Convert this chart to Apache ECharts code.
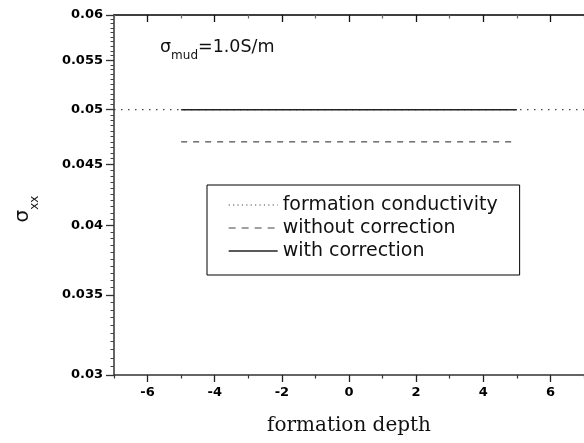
<!DOCTYPE html>
<html>
<head>
<meta charset="utf-8">
<script src="https://cdn.jsdelivr.net/npm/echarts@6/dist/echarts.min.js"></script>
<style>html,body{margin:0;padding:0;background:#fff;}#c{width:584px;height:443px;}</style>
</head>
<body>
<div id="c"></div>
<script>
// ---- data ----
const seriesNames = ['formation conductivity', 'without correction', 'with correction'];
const formationConductivity = [[-7, 0.05], [7, 0.05]];
const withoutCorrection = [[-5, 0.047], [5, 0.047]];
const withCorrection = [[-5, 0.05], [5, 0.05]];
const xMajorTicks = [-6, -4, -2, 0, 2, 4, 6];
const xMinorTicks = [-7, -5, -3, -1, 1, 3, 5, 7];
const yMajorTicks = [0.03, 0.035, 0.04, 0.045, 0.05, 0.055, 0.06];
const yMinorTicks = [0.0305,0.031,0.0315,0.032,0.0325,0.033,0.0335,0.034,0.0345,
  0.0355,0.036,0.0365,0.037,0.0375,0.038,0.0385,0.039,0.0395,
  0.0405,0.041,0.0415,0.042,0.0425,0.043,0.0435,0.044,0.0445,
  0.0455,0.046,0.0465,0.047,0.0475,0.048,0.0485,0.049,0.0495,
  0.0505,0.051,0.0515,0.052,0.0525,0.053,0.0535,0.054,0.0545,
  0.0555,0.056,0.0565,0.057,0.0575,0.058,0.0585,0.059,0.0595];
const xRange = [-7, 7];
const yRange = [0.03, 0.06];
const xTitle = 'formation depth';

const chart = echarts.init(document.getElementById('c'), null, {renderer: 'canvas'});
const tickFont = {fontFamily: 'DejaVu Sans', fontWeight: 'bold', fontSize: 13, color: '#000'};
const baseX = {type: 'value', min: xRange[0], max: xRange[1], splitLine: {show: false}};
const baseY = {type: 'log', logBase: 10, min: yRange[0], max: yRange[1], splitLine: {show: false}};

chart.setOption({
  animation: false,
  grid: {left: 114, top: 15, bottom: 68, right: -9.5},
  legend: {
    orient: 'vertical', left: 207, top: 185,
    data: [
      {name: seriesNames[0], lineStyle: {type: [1.2, 3.2], width: 1.2, color: '#444'}},
      {name: seriesNames[1], lineStyle: {type: [7, 6], width: 1.2, color: '#444'}},
      {name: seriesNames[2], lineStyle: {type: 'solid', width: 1.3, color: '#222'}}
    ],
    itemWidth: 49, itemHeight: 14, itemGap: 3,
    itemStyle: {opacity: 0, borderWidth: 0},
    padding: [10, 22, 14, 21],
    borderColor: '#000', borderWidth: 1,
    textStyle: {fontFamily: 'DejaVu Sans', fontSize: 19, color: '#111', lineHeight: 20},
    selectedMode: false
  },
  xAxis: [
    Object.assign({}, baseX, {
      position: 'bottom',
      axisLine: {onZero: false, lineStyle: {color: '#333', width: 1.5}},
      axisTick: {customValues: xMajorTicks, length: 7, lineStyle: {color: '#222', width: 1.3}},
      axisLabel: Object.assign({customValues: xMajorTicks, margin: 11}, tickFont),
      name: xTitle, nameLocation: 'middle', nameGap: 41,
      nameTextStyle: {fontFamily: 'DejaVu Serif', fontSize: 20, color: '#111'}
    }),
    Object.assign({}, baseX, {
      position: 'bottom',
      axisLine: {show: false, onZero: false},
      axisTick: {customValues: xMinorTicks, length: 3.5, lineStyle: {color: '#333', width: 1.2}},
      axisLabel: {show: false}
    }),
    Object.assign({}, baseX, {
      position: 'top',
      axisLine: {onZero: false, lineStyle: {color: '#000', width: 1.5}},
      axisTick: {inside: true, customValues: xMajorTicks, length: 7, lineStyle: {color: '#111', width: 1.3}},
      axisLabel: {show: false}
    }),
    Object.assign({}, baseX, {
      position: 'top',
      axisLine: {show: false, onZero: false},
      axisTick: {inside: true, customValues: xMinorTicks, length: 3.5, lineStyle: {color: '#666', width: 1.2}},
      axisLabel: {show: false}
    })
  ],
  yAxis: [
    Object.assign({}, baseY, {
      position: 'left',
      axisLine: {show: true, onZero: false, lineStyle: {color: '#333', width: 1.5}},
      axisTick: {show: true, customValues: yMajorTicks, length: 8, lineStyle: {color: '#333', width: 1.3}},
      axisLabel: Object.assign({
        customValues: yMajorTicks, margin: 11,
        formatter: v => String(parseFloat(Number(v).toFixed(4)))
      }, tickFont)
    }),
    Object.assign({}, baseY, {
      position: 'left',
      axisLine: {show: false, onZero: false},
      axisTick: {show: true, customValues: yMinorTicks, length: 3.5, lineStyle: {color: '#444', width: 1}},
      axisLabel: {show: false}
    })
  ],
  series: [
    {name: seriesNames[0], type: 'line', data: formationConductivity, symbol: 'none', z: 2,
      lineStyle: {color: '#444', width: 1.3, type: [1.5, 5.5]}, itemStyle: {color: '#444'}},
    {name: seriesNames[1], type: 'line', data: withoutCorrection, symbol: 'none', z: 3,
      lineStyle: {color: '#555', width: 1.3, type: [6, 6]}, itemStyle: {color: '#555'}},
    {name: seriesNames[2], type: 'line', data: withCorrection, symbol: 'none', z: 4,
      lineStyle: {color: '#222', width: 1.5, type: 'solid'}, itemStyle: {color: '#222'}}
  ],
  graphic: [
    {type: 'text', left: 160, top: 38, silent: true,
      style: {
        text: '{a|σ}{b|mud}{a|=1.0S/m}',
        rich: {
          a: {fontFamily: 'DejaVu Sans', fontSize: 17.5, lineHeight: 20, verticalAlign: 'top', fill: '#111'},
          b: {fontFamily: 'DejaVu Sans', fontSize: 12, lineHeight: 24, verticalAlign: 'bottom', fill: '#111'}
        }
      }},
    {type: 'text', x: 27, y: 209, rotation: Math.PI / 2, silent: true,
      style: {
        text: '{a|σ}{b|xx}', align: 'center', verticalAlign: 'middle',
        rich: {
          a: {fontFamily: 'DejaVu Sans', fontSize: 20, lineHeight: 22, verticalAlign: 'top', fill: '#111'},
          b: {fontFamily: 'DejaVu Sans', fontSize: 12, lineHeight: 28, verticalAlign: 'bottom', fill: '#111'}
        }
      }}
  ]
});
</script>
</body>
</html>
